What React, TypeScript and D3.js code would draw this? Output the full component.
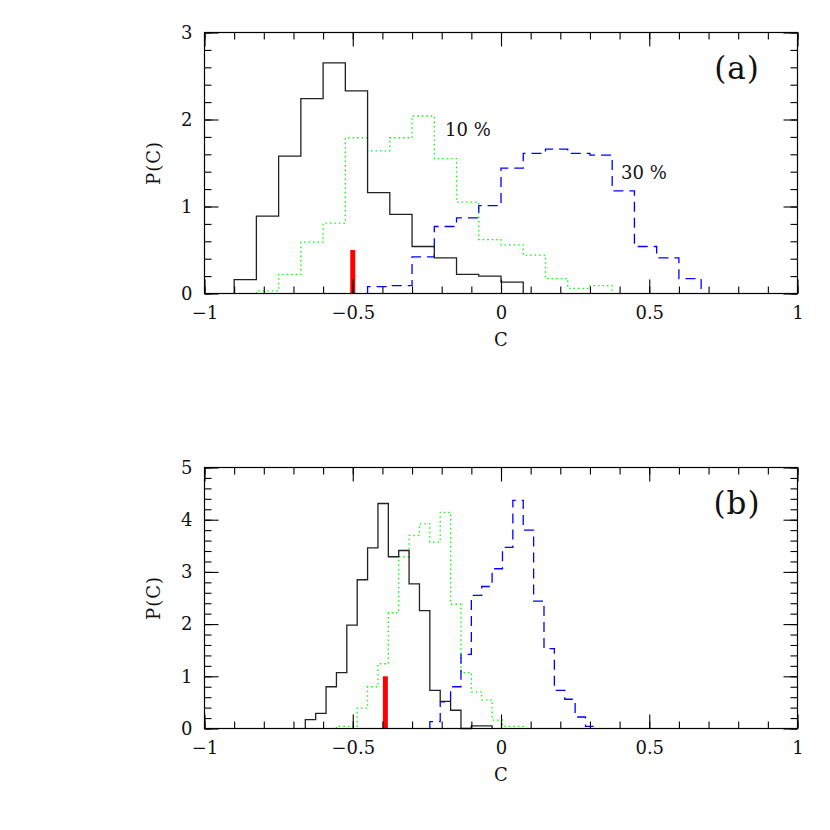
import { useEffect, useRef } from 'react'
import * as d3 from 'd3'

// panel (a): bins of width 0.075
const binWidthA = 0.075
const blackStartA = -0.9
const blackA = [0.16, 0.89, 1.58, 2.24, 2.65, 2.33, 1.16, 0.91, 0.54, 0.41, 0.22, 0.2, 0.13]
const greenStartA = -0.825
const greenA = [0.03, 0.22, 0.59, 0.81, 1.79, 1.64, 1.79, 2.04, 1.55, 1.05, 0.62, 0.56, 0.44, 0.17, 0.06, 0.09]
const blueStartA = -0.45
const blueA = [0.08, 0.09, 0.42, 0.77, 0.87, 1.01, 1.44, 1.61, 1.66, 1.61, 1.59, 1.18, 0.54, 0.41, 0.17]

// panel (b): bins of width 0.035
const binWidthB = 0.035
const blackStartB = -0.66
const blackB = [0.17, 0.29, 0.8, 1.07, 1.98, 2.85, 3.46, 4.31, 3.29, 3.41, 2.77, 2.26, 0.73, 0.52, 0.35, 0, 0.05, 0.05]
const greenStartB = -0.555
const greenB = [0.04, 0.04, 0.39, 0.8, 1.24, 2.22, 3.29, 3.7, 3.92, 3.57, 4.14, 2.38, 1.07, 0.7, 0.55, 0.16, 0.04, 0.04]
const blueStartB = -0.24
const blueB = [0.13, 0.51, 0.8, 1.42, 2.55, 2.72, 3.06, 3.47, 4.37, 3.8, 2.44, 1.53, 0.73, 0.56, 0.22, 0.04]

// observed value (red bar)
const markA = { c: -0.5, p: 0.5 }
const markB = { c: -0.39, p: 1 }

const xTicks = [-1, -0.5, 0, 0.5, 1]
const yTicksA = [0, 1, 2, 3]
const yTicksB = [0, 1, 2, 3, 4, 5]

const FONT = '"DejaVu Serif", "Liberation Serif", serif'

type Series = { start: number; values: number[]; color: string; dash: string | null; width: number }

function drawPanel(
  g: d3.Selection<SVGGElement, unknown, null, undefined>,
  top: number,
  yMax: number,
  yTicks: number[],
  binWidth: number,
  series: Series[],
  mark: { c: number; p: number },
  letter: string,
  notes: { text: string; x: number; y: number }[]
) {
  const left = 204.5
  const right = 797.5
  const bottom = top + 261
  const x = d3.scaleLinear().domain([-1, 1]).range([left, right])
  const y = d3.scaleLinear().domain([0, yMax]).range([bottom, top])

  const line = d3.line<[number, number]>().x(d => x(d[0])).y(d => y(d[1]))

  series.forEach(s => {
    const pts: [number, number][] = [[s.start, 0]]
    s.values.forEach((v, i) => {
      const e0 = s.start + i * binWidth
      pts.push([e0, v], [e0 + binWidth, v])
    })
    pts.push([s.start + s.values.length * binWidth, 0])
    g.append('path')
      .attr('d', line(pts))
      .attr('fill', 'none')
      .attr('stroke', s.color)
      .attr('stroke-width', s.width)
      .attr('stroke-dasharray', s.dash)
  })

  // red bar
  g.append('line')
    .attr('x1', x(mark.c)).attr('x2', x(mark.c))
    .attr('y1', y(0)).attr('y2', y(mark.p))
    .attr('stroke', '#ff0000')
    .attr('stroke-width', 5)

  // frame
  g.append('rect')
    .attr('x', left).attr('y', top)
    .attr('width', right - left).attr('height', bottom - top)
    .attr('fill', 'none').attr('stroke', '#000').attr('stroke-width', 1.2)

  const xMinor = d3.range(-10, 11).map(i => i / 10)
  const yMinor = d3.range(0, yMax * 5 + 1).map(i => i / 5)

  const styleAxis = (sel: d3.Selection<SVGGElement, unknown, null, undefined>) => {
    sel.select('.domain').remove()
    sel.selectAll('line').attr('stroke', '#000').attr('stroke-width', 1.1)
  }

  g.append('g').attr('transform', `translate(0,${bottom})`)
    .call(d3.axisBottom(x).tickValues(xMinor).tickSize(-7).tickFormat(() => '')).call(styleAxis)
  g.append('g').attr('transform', `translate(0,${bottom})`)
    .call(d3.axisBottom(x).tickValues(xTicks).tickSize(-14).tickPadding(13).tickFormat(d3.format('')))
    .call(styleAxis)
  g.append('g').attr('transform', `translate(0,${top})`)
    .call(d3.axisTop(x).tickValues(xMinor).tickSize(-7).tickFormat(() => '')).call(styleAxis)
  g.append('g').attr('transform', `translate(0,${top})`)
    .call(d3.axisTop(x).tickValues(xTicks).tickSize(-14).tickFormat(() => '')).call(styleAxis)

  g.append('g').attr('transform', `translate(${left},0)`)
    .call(d3.axisLeft(y).tickValues(yMinor).tickSize(-7).tickFormat(() => '')).call(styleAxis)
  g.append('g').attr('transform', `translate(${left},0)`)
    .call(d3.axisLeft(y).tickValues(yTicks).tickSize(-14).tickPadding(12).tickFormat(d3.format('d')))
    .call(styleAxis)
  g.append('g').attr('transform', `translate(${right},0)`)
    .call(d3.axisRight(y).tickValues(yMinor).tickSize(-7).tickFormat(() => '')).call(styleAxis)
  g.append('g').attr('transform', `translate(${right},0)`)
    .call(d3.axisRight(y).tickValues(yTicks).tickSize(-14).tickFormat(() => '')).call(styleAxis)

  g.selectAll('.tick text')
    .attr('font-family', FONT)
    .attr('font-size', 18)
    .attr('fill', '#111')

  g.append('text')
    .attr('x', (left + right) / 2).attr('y', bottom + 52)
    .attr('text-anchor', 'middle')
    .attr('font-family', FONT).attr('font-size', 18).attr('fill', '#111')
    .text('C')

  g.append('text')
    .attr('transform', `translate(160,${(top + bottom) / 2}) rotate(-90)`)
    .attr('text-anchor', 'middle')
    .attr('font-family', FONT).attr('font-size', 18).attr('fill', '#111')
    .attr('letter-spacing', 1)
    .text('P(C)')

  g.append('text')
    .attr('x', 737).attr('y', top + 46)
    .attr('text-anchor', 'middle')
    .attr('font-family', FONT).attr('font-size', 31).attr('fill', '#111')
    .attr('letter-spacing', 1)
    .text(letter)

  notes.forEach(n => {
    g.append('text')
      .attr('x', n.x).attr('y', n.y)
      .attr('font-family', FONT).attr('font-size', 18).attr('fill', '#111')
      .text(n.text)
  })
}

export default function App() {
  const svgRef = useRef<SVGSVGElement>(null)

  useEffect(() => {
    const svg = d3.select(svgRef.current)
    svg.selectAll('*').remove()

    drawPanel(
      svg.append('g'), 32.5, 3, yTicksA, binWidthA,
      [
        { start: greenStartA, values: greenA, color: '#00ff00', dash: '1.5,3', width: 1.3 },
        { start: blueStartA, values: blueA, color: '#0000ff', dash: '10,6', width: 1.3 },
        { start: blackStartA, values: blackA, color: '#222', dash: null, width: 1.3 },
      ],
      markA, '(a)',
      [{ text: '10 %', x: 445, y: 136 }, { text: '30 %', x: 621, y: 179 }]
    )

    drawPanel(
      svg.append('g'), 467.5, 5, yTicksB, binWidthB,
      [
        { start: greenStartB, values: greenB, color: '#00ff00', dash: '1.5,3', width: 1.3 },
        { start: blueStartB, values: blueB, color: '#0000ff', dash: '10,6', width: 1.3 },
        { start: blackStartB, values: blackB, color: '#222', dash: null, width: 1.3 },
      ],
      markB, '(b)', []
    )
  }, [])

  return (
    <svg
      ref={svgRef}
      width={830}
      height={830}
      style={{ position: 'absolute', left: 0, top: 0, background: '#fff' }}
    />
  )
}
